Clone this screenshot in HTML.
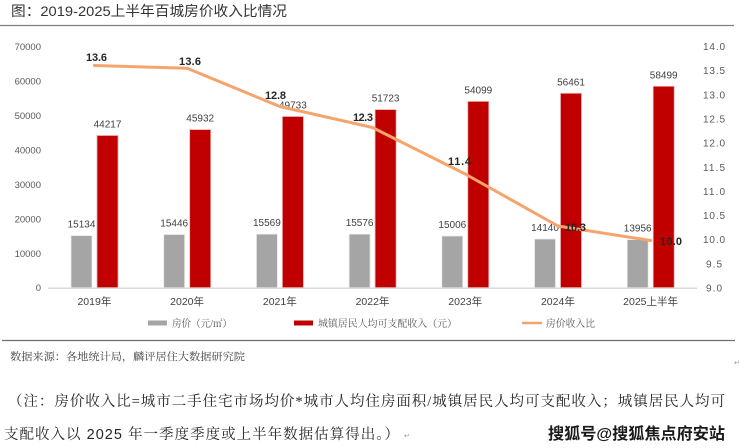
<!DOCTYPE html>
<html><head><meta charset="utf-8"><style>
html,body{margin:0;padding:0;background:#fff;}
svg{display:block;}
.serif{font-family:"Liberation Serif","Noto Serif CJK SC","Noto Serif CJK SC",serif;}
.sans{font-family:"Liberation Sans","Noto Sans CJK SC",sans-serif;}
</style></head><body>
<svg width="740" height="448" viewBox="0 0 740 448" xmlns="http://www.w3.org/2000/svg">
<rect width="740" height="448" fill="#fff"/>
<!-- title -->
<text class="sans" x="11" y="16" font-size="14" fill="#333" textLength="276" lengthAdjust="spacingAndGlyphs">图：2019-2025上半年百城房价收入比情况</text>
<line x1="0" y1="25.5" x2="734" y2="25.5" stroke="#7f7f7f" stroke-width="1.3"/>

<!-- left axis labels -->
<g class="sans" font-size="9.5" fill="#595959" text-anchor="end">
<text x="41" y="50">70000</text>
<text x="41" y="84.5">60000</text>
<text x="41" y="119">50000</text>
<text x="41" y="153.5">40000</text>
<text x="41" y="188">30000</text>
<text x="41" y="222.5">20000</text>
<text x="41" y="257">10000</text>
<text x="41" y="291">0</text>
</g>
<!-- right axis labels -->
<g class="sans" font-size="10" fill="#595959">
<text x="703" y="50" textLength="22" lengthAdjust="spacing">14.0</text>
<text x="703" y="74.2" textLength="22" lengthAdjust="spacing">13.5</text>
<text x="703" y="98.3" textLength="22" lengthAdjust="spacing">13.0</text>
<text x="703" y="122.5" textLength="22" lengthAdjust="spacing">12.5</text>
<text x="703" y="146.6" textLength="22" lengthAdjust="spacing">12.0</text>
<text x="703" y="170.8" textLength="22" lengthAdjust="spacing">11.5</text>
<text x="703" y="194.9" textLength="22" lengthAdjust="spacing">11.0</text>
<text x="703" y="219.1" textLength="22" lengthAdjust="spacing">10.5</text>
<text x="703" y="243.2" textLength="22" lengthAdjust="spacing">10.0</text>
<text x="706" y="267.4" textLength="16" lengthAdjust="spacing">9.5</text>
<text x="706" y="291.5" textLength="16" lengthAdjust="spacing">9.0</text>
</g>

<!-- bars -->
<g stroke="#ececec" stroke-width="0.8">
<rect x="71" y="235.6" width="21" height="52.1" fill="#a5a5a5"/>
<rect x="163.7" y="234.5" width="21" height="53.2" fill="#a5a5a5"/>
<rect x="256.4" y="234.1" width="21" height="53.6" fill="#a5a5a5"/>
<rect x="349.1" y="234.1" width="21" height="53.6" fill="#a5a5a5"/>
<rect x="441.8" y="236.0" width="21" height="51.7" fill="#a5a5a5"/>
<rect x="534.5" y="239.0" width="21" height="48.7" fill="#a5a5a5"/>
<rect x="627.2" y="239.6" width="21" height="48.1" fill="#a5a5a5"/>
</g>
<g stroke="#eab0b0" stroke-width="0.8">
<rect x="97" y="135.5" width="21" height="152.2" fill="#c00000"/>
<rect x="189.7" y="129.6" width="21" height="158.1" fill="#c00000"/>
<rect x="282.4" y="116.5" width="21" height="171.2" fill="#c00000"/>
<rect x="375.1" y="109.6" width="21" height="178.1" fill="#c00000"/>
<rect x="467.8" y="101.4" width="21" height="186.3" fill="#c00000"/>
<rect x="560.5" y="93.3" width="21" height="194.4" fill="#c00000"/>
<rect x="653.2" y="86.3" width="21" height="201.4" fill="#c00000"/>
</g>
<!-- axis line -->
<line x1="48" y1="288.2" x2="697" y2="288.2" stroke="#d9d9d9" stroke-width="1.5"/>

<!-- bar value labels -->
<g class="sans" font-size="10" fill="#404040" text-anchor="middle">
<text x="81.5" y="227.6">15134</text>
<text x="174.2" y="226.5">15446</text>
<text x="266.9" y="226.1">15569</text>
<text x="359.6" y="226.1">15576</text>
<text x="452.3" y="228">15006</text>
<text x="545" y="231">14140</text>
<text x="637.7" y="231.6">13956</text>
<text x="107.5" y="127.5">44217</text>
<text x="200.2" y="121.6">45932</text>
<text x="292.9" y="108.5">49733</text>
<text x="385.6" y="101.6">51723</text>
<text x="478.3" y="93.4">54099</text>
<text x="571" y="85.3">56461</text>
<text x="663.7" y="78.3">58499</text>
</g>

<!-- line -->
<polyline points="94.4,65.5 187.1,68.3 279.8,106.5 372.5,127.5 465.2,174 557.9,226 650.6,240.5" fill="none" stroke="#f4a46c" stroke-width="3" stroke-linejoin="round" stroke-linecap="round"/>

<!-- line labels -->
<g class="sans" font-size="11" font-weight="bold" fill="#262626">
<text x="86" y="61" textLength="21" lengthAdjust="spacing">13.6</text>
<text x="179" y="65" textLength="22" lengthAdjust="spacing">13.6</text>
<text x="265" y="99" textLength="21" lengthAdjust="spacing">12.8</text>
<text x="353" y="121" textLength="20" lengthAdjust="spacing">12.3</text>
<text x="448" y="165" textLength="23" lengthAdjust="spacing">11.4</text>
<text x="565" y="231" textLength="21" lengthAdjust="spacing">10.3</text>
<text x="660" y="245" textLength="22" lengthAdjust="spacing">10.0</text>
</g>

<!-- category labels -->
<g class="sans" font-size="10.5" fill="#404040" text-anchor="middle">
<text x="94.4" y="305">2019年</text>
<text x="187.1" y="305">2020年</text>
<text x="279.8" y="305">2021年</text>
<text x="372.5" y="305">2022年</text>
<text x="465.2" y="305">2023年</text>
<text x="557.9" y="305">2024年</text>
<text x="650.6" y="305">2025上半年</text>
</g>

<!-- legend -->
<rect x="148" y="320.5" width="19" height="5" fill="#a5a5a5"/>
<text class="serif" x="172" y="327" font-size="10" fill="#595959" textLength="60" lengthAdjust="spacingAndGlyphs">房价（元/㎡）</text>
<rect x="294" y="320.5" width="19" height="5" fill="#c00000"/>
<text class="serif" x="318" y="327" font-size="10" fill="#595959" textLength="139" lengthAdjust="spacingAndGlyphs">城镇居民人均可支配收入（元）</text>
<line x1="522" y1="323" x2="542" y2="323" stroke="#f4a46c" stroke-width="2.5"/>
<text class="serif" x="546" y="327" font-size="10" fill="#595959" textLength="49" lengthAdjust="spacingAndGlyphs">房价收入比</text>

<line x1="2" y1="340.5" x2="735" y2="340.5" stroke="#6f6f6f" stroke-width="1.3"/>

<!-- source -->
<text class="serif" x="10" y="360" font-size="10.5" fill="#404040" textLength="235" lengthAdjust="spacingAndGlyphs">数据来源：各地统计局，麟评居住大数据研究院</text>
<text class="sans" x="734" y="365" font-size="7" fill="#999">↵</text>

<!-- note -->
<text class="serif" x="8" y="406" font-size="14.5" fill="#262626" textLength="717" lengthAdjust="spacing">（注：房价收入比=城市二手住宅市场均价*城市人均住房面积/城镇居民人均可支配收入；城镇居民人均可</text>
<text x="4" y="439" style="font-family:'Liberation Sans','Noto Serif CJK SC',serif" font-size="14.5" fill="#262626" textLength="395" lengthAdjust="spacing">支配收入以 2025 年一季度季度或上半年数据估算得出。）</text>
<text class="sans" x="404" y="438" font-size="7" fill="#999">↵</text>

<!-- watermark -->
<text class="sans" x="548" y="439" font-size="16" font-weight="bold" fill="#1a1a1a" stroke="#ffffff" stroke-width="0.6" paint-order="stroke" textLength="177" lengthAdjust="spacingAndGlyphs">搜狐号@搜狐焦点府安站</text>
</svg>
</body></html>
